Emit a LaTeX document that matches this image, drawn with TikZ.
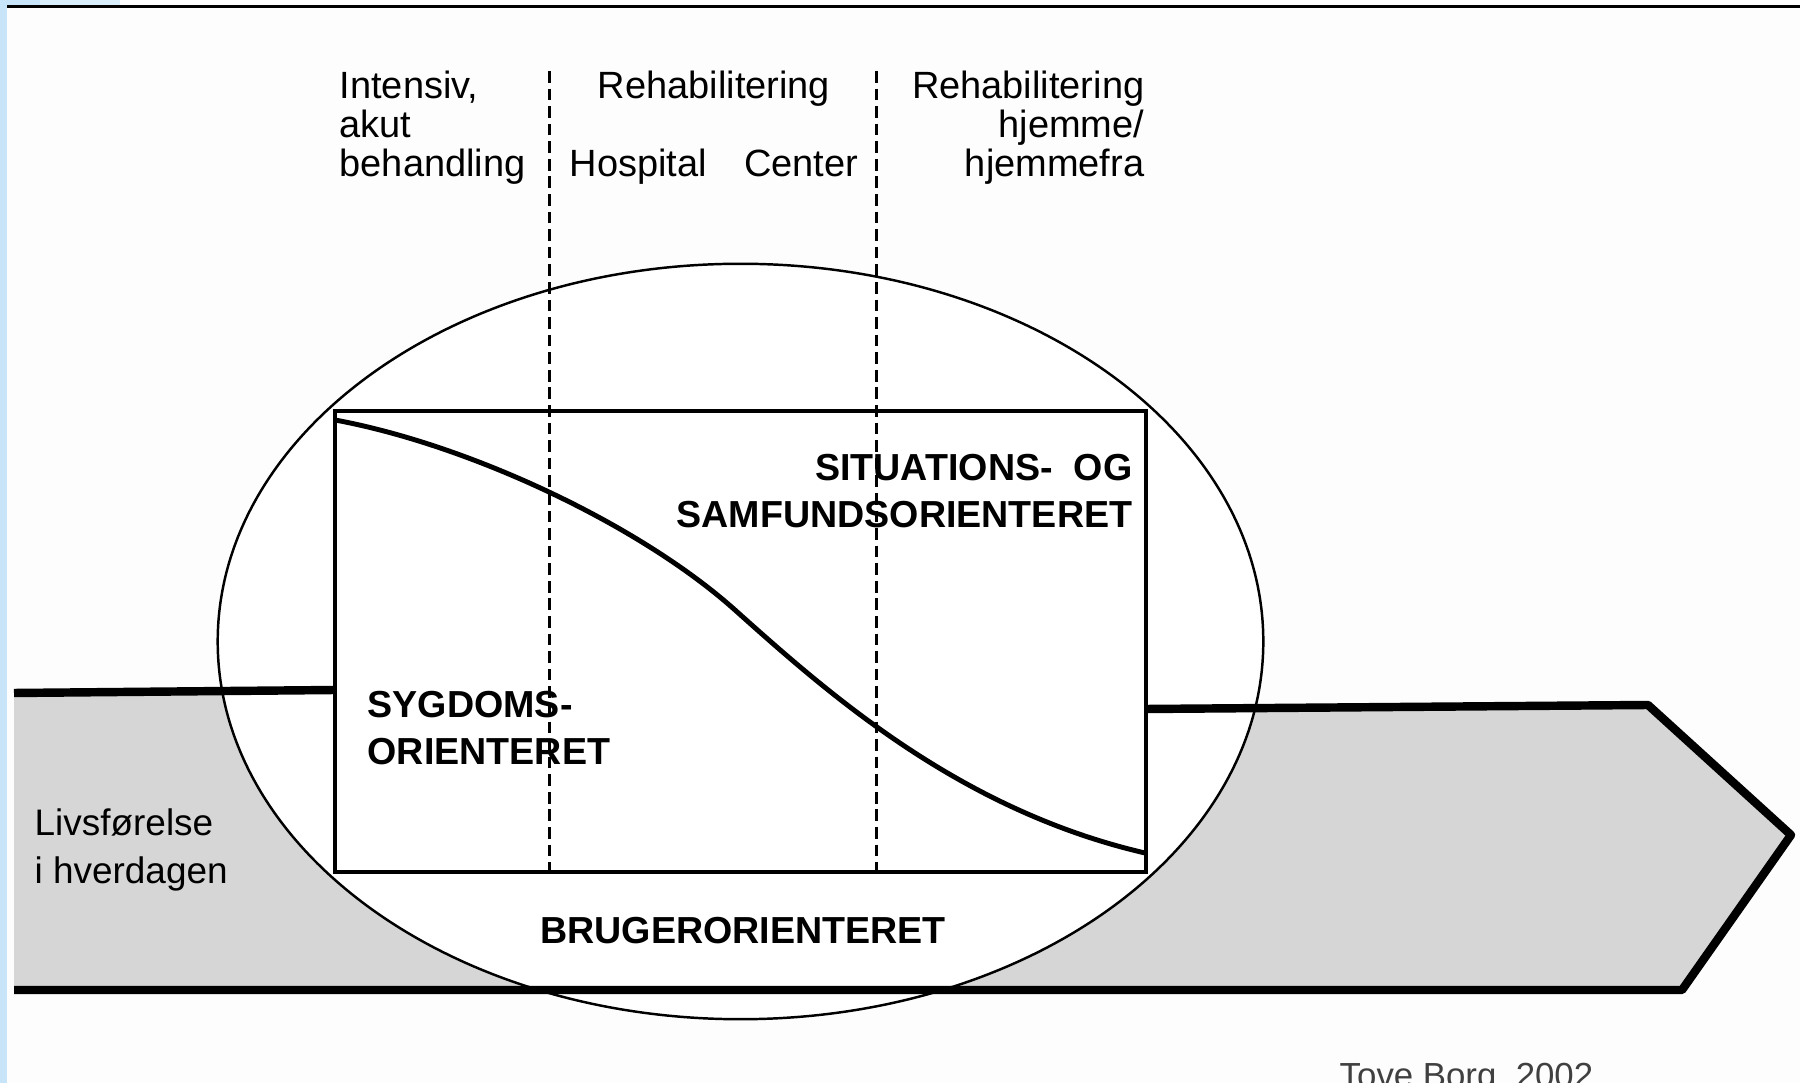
\documentclass[tikz,border=0pt]{standalone}
\usepackage{fontspec}
\setmainfont{Liberation Sans}
\definecolor{paper}{RGB}{253,253,253}
\definecolor{frameblue}{RGB}{200,228,248}
\definecolor{paleblue}{RGB}{216,238,251}
\definecolor{bandgray}{RGB}{214,214,214}
\definecolor{signgray}{RGB}{64,64,64}
\tikzset{bandline/.style={line width=2.4pt,line join=round},
         frame/.style={line width=1pt},
         phase/.style={line width=0.85pt,dash pattern=on 3.3pt off 1.7pt},
         trend/.style={line width=1.4pt},
         head/.style={inner sep=0pt,font=\fontsize{10.8pt}{11.1pt}\selectfont},
         tag/.style={inner sep=0pt,font=\bfseries\fontsize{10.7pt}{13.4pt}\selectfont},
         plain/.style={inner sep=0pt,font=\fontsize{10.5pt}{13.7pt}\selectfont}}

\begin{document}
\begin{tikzpicture}[x=0.01cm,y=-0.01cm]
    \useasboundingbox (0,0) rectangle (1800,1083);
    \fill[paper] (0,0) rectangle (1800,1083);
    \fill[frameblue] (0,0) rectangle (7,1083);
    \fill[frameblue] (0,0) rectangle (40,6);
    \fill[paleblue] (40,0) rectangle (120,6);
    \draw[line width=0.6pt] (7,6.5) -- (1800,6.5);

    \coordinate (boxnw) at (335,411);
    \coordinate (boxse) at (1146,872);
    \coordinate (inleft) at (14,693);
    \coordinate (outright) at (1648,705);
    \coordinate (tip) at (1791,835);
    \coordinate (tail) at (1682,990);
    \coordinate (inbottom) at (14,990);

    \fill[bandgray] (inleft) -- (335,690) -- (1146,709) -- (outright)
        -- (tip) -- (tail) -- (inbottom) -- cycle;
    \draw[fill=white,line width=0.7pt] (740.5,641.5)
        ellipse [x radius=5.225cm, y radius=3.775cm];

    \draw[bandline] (inleft) -- (335,690);
    \draw[bandline] (1146,709) -- (outright) -- (tip) -- (tail) -- (inbottom);

    \draw[frame] (boxnw) rectangle (boxse);
    \draw[phase] (549,71) -- (549,872);
    \draw[phase] (876,71) -- (876,872);
    \draw[trend] (335,420) .. controls (470,445) and (640,525) .. (735,610)
        .. controls (830,695) and (960,810) .. (1145,853);

    \node[head,anchor=base west,align=left] (acute) at (339,177)
        {Intensiv,\\akut\\behandling};
    \node[head,anchor=base] (rehab) at (714,99) {Rehabilitering};
    \node[head,anchor=base west] (hospital) at (569,177) {Hospital};
    \node[head,anchor=base east] (center) at (859,177) {Center};
    \node[head,anchor=base east,align=right] (home) at (1145,177)
        {Rehabilitering\\hjemme/\\hjemmefra};

    \node[tag,anchor=base east,align=right] (society) at (1133,528)
        {SITUATIONS-\ \ OG\\SAMFUNDSORIENTERET};
    \node[tag,anchor=base west,align=left] (disease) at (367,765)
        {SYGDOMS-\\ORIENTERET};
    \node[tag,anchor=base] (user) at (743,944) {BRUGERORIENTERET};

    \node[plain,anchor=base west,align=left] (everyday) at (34,884)
        {Livsførelse\\i hverdagen};
    \node[plain,anchor=base west,text=signgray,font=\fontsize{9.9pt}{12pt}\selectfont]
        (source) at (1339,1087) {Tove Borg, 2002};
\end{tikzpicture}
\end{document}
